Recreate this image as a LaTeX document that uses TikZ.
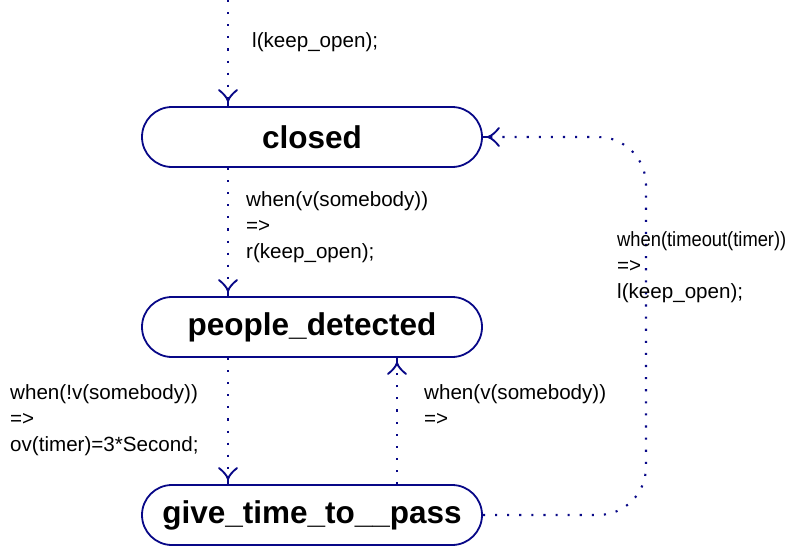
\documentclass[tikz,border=0pt]{standalone}
\usepackage{fontspec}
\setmainfont{Liberation Sans}
\newfontfamily\narrowsans[FakeStretch=0.89]{Liberation Sans}
\usetikzlibrary{arrows.meta}

\definecolor{navy}{RGB}{8,8,135}

% Open forked tip: a short solid stem with two slightly flaring arms
\pgfdeclarearrow{
  name = Fork,
  setup code = {
    \pgfarrowssettipend{0pt}
    \pgfarrowssetlineend{-5pt}
    \pgfarrowssetbackend{-16pt}
    \pgfarrowsupperhullpoint{-16pt}{9pt}
    \pgfarrowsupperhullpoint{0pt}{0pt}
  },
  drawing code = {
    \pgfsetdash{}{0pt}
    \pgfsetlinewidth{1.9pt}
    \pgfsetroundcap
    \pgfpathmoveto{\pgfqpoint{0pt}{0pt}}
    \pgfpathlineto{\pgfqpoint{-5pt}{0pt}}
    \pgfpathcurveto{\pgfqpoint{-9pt}{1.2pt}}{\pgfqpoint{-13pt}{5pt}}{\pgfqpoint{-16pt}{9pt}}
    \pgfpathmoveto{\pgfqpoint{-5pt}{0pt}}
    \pgfpathcurveto{\pgfqpoint{-9pt}{-1.2pt}}{\pgfqpoint{-13pt}{-5pt}}{\pgfqpoint{-16pt}{-9pt}}
    \pgfusepathqstroke
  },
}

\tikzset{
  statebox/.style={draw=navy, line width=1.8pt, rounded corners=30pt,
    minimum width=340pt, minimum height=60pt, inner sep=0pt,
    font=\fontsize{31.5}{36}\selectfont\bfseries},
  flow/.style={navy, line width=2.1pt, dash pattern=on 2.1pt off 10pt, -Fork},
  note/.style={anchor=north west, inner sep=0pt, align=left,
    font=\fontsize{20.6}{26}\selectfont},
}

\begin{document}
\begin{tikzpicture}[x=1pt,y=-1pt]
\useasboundingbox (0,0) rectangle (807,546);

% states
\node[statebox] (closed) at (312,137) {closed};
\node[statebox] (detected) at (312,327) {people\_detected};
\node[statebox] (pass) at (312,515) {give\_time\_to\_\_pass};

% guide columns for the vertical transitions
\coordinate (init) at (228,0);
\coordinate (colA) at (228,0);
\coordinate (colB) at (397,0);
\coordinate (colC) at (646,0);

% transitions
\draw[flow] (init) -- (init |- closed.north);
\draw[flow] (closed.south -| colA) -- (detected.north -| colA);
\draw[flow] (detected.south -| colA) -- (pass.north -| colA);
\draw[flow] (pass.north -| colB) -- (detected.south -| colB);
\draw[flow, rounded corners=48pt] (pass.east) -- (pass.east -| colC)
  -- (closed.east -| colC) -- (closed.east);

% transition labels
\node[note] (l0) at (252,32) {l(keep\_open);};
\node[note] (l1) at (246,191) {when(v(somebody))\\=>\\r(keep\_open);};
\node[note] (l2) at (617,231) {{\narrowsans when(timeout(timer))}\\=>\\l(keep\_open);};
\node[note] (l3) at (10,384) {when(!v(somebody))\\=>\\ov(timer)=3*Second;};
\node[note] (l4) at (424,384) {when(v(somebody))\\=>};
\end{tikzpicture}
\end{document}
